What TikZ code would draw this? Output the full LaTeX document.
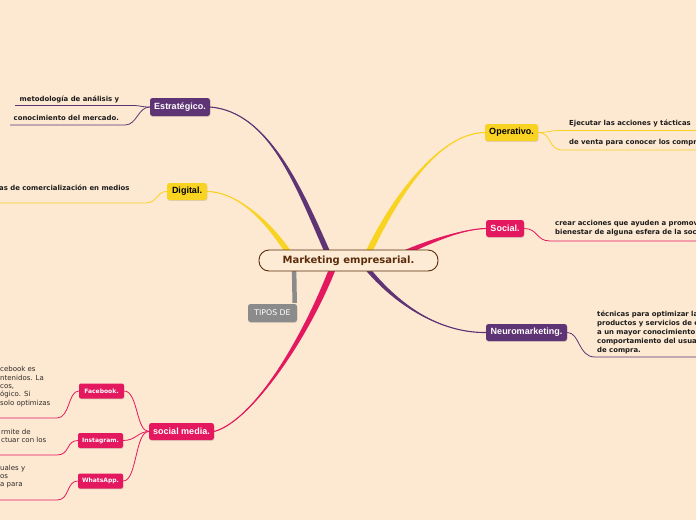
\documentclass[tikz,border=0pt]{standalone}
\usepackage{fontspec}
\setmainfont{DejaVu Sans}
\newfontfamily\lsans{Liberation Sans}
\usetikzlibrary{shadows}
\definecolor{bgc}{HTML}{FDE8D1}
\definecolor{cpurple}{HTML}{5E3474}
\definecolor{cyellow}{HTML}{F9D322}
\definecolor{cpink}{HTML}{E3185E}
\definecolor{cgray}{HTML}{8B8B8B}
\definecolor{cbrown}{HTML}{5B2C0B}
\definecolor{cfill}{HTML}{FDEBD5}
\definecolor{txtdark}{HTML}{1C1C1C}
\definecolor{txtreg}{HTML}{2E2A28}
\pgfdeclarelayer{backlayer}
\pgfdeclarelayer{bglayer}
\pgfsetlayers{backlayer,bglayer,main}
\newcommand\tapr[7]{%
  \fill[#1] ([xshift=-#6,yshift=-#7]#2) .. controls ([xshift=-#6,yshift=-#7]#3) and (#4) .. (#5)
     .. controls (#4) and ([xshift=#6,yshift=#7]#3) .. ([xshift=#6,yshift=#7]#2) -- cycle;
  \draw[#1, line width=1.1pt] (#2) .. controls (#3) and (#4) .. (#5);
}
\tikzset{
  shd/.style={drop shadow={shadow xshift=0.4pt, shadow yshift=-0.9pt, opacity=0.25}},
  mainbox/.style={rounded corners=2.5pt, inner sep=0pt, shd,
     font=\lsans\bfseries\fontsize{9}{10}\selectfont, minimum height=17pt},
  smallbox/.style={rounded corners=2pt, inner sep=0pt, shd, fill=cpink, text=white,
     font=\bfseries\fontsize{6}{7}\selectfont, minimum height=15pt, minimum width=45pt},
  subtxt/.style={font=\bfseries\fontsize{6.9}{9}\selectfont, text=txtdark, inner sep=0pt, anchor=west, align=left},
  regtxt/.style={font=\fontsize{7}{8.3}\selectfont, text=txtreg, inner sep=0pt, anchor=west, align=left},
  thin/.style={line width=0.8pt},
}
\begin{document}
\begin{tikzpicture}[x=1pt,y=-1pt]
\begin{pgfonlayer}{backlayer}
\fill[bgc] (0,0) rectangle (696,520);
\end{pgfonlayer}
\useasboundingbox (0,0) rectangle (696,520);

% ---------- nodes ----------
\node[draw=cbrown, line width=0.9pt, fill=cfill, rounded corners=10pt, minimum width=179pt, minimum height=21pt,
      inner sep=0pt, text=cbrown, font=\bfseries\fontsize{10}{12}\selectfont] (root) at (348.5,260.5) {Marketing empresarial.};
\node[rounded corners=2.5pt, fill=cgray, text=white, minimum width=49pt, minimum height=18pt, inner sep=0pt, shd,
      font=\fontsize{7.8}{9}\selectfont] (tipos) at (272.5,313) {TIPOS DE};

\node[mainbox, fill=cpurple, text=white, minimum width=60pt, minimum height=18pt] (estr) at (180,107) {Estratégico.};
\node[mainbox, fill=cyellow, text=black, minimum width=40pt] (digi) at (187,191.5) {Digital.};
\node[mainbox, fill=cyellow, text=black, minimum width=53pt] (oper) at (511.5,132.5) {Operativo.};
\node[mainbox, fill=cpink, text=white, minimum width=38pt] (soci) at (505,228.5) {Social.};
\node[mainbox, fill=cpurple, text=white, minimum width=81pt] (neur) at (526.5,332.5) {Neuromarketing.};
\node[mainbox, fill=cpink, text=white, minimum width=65pt] (smed) at (181.5,431.5) {social media.};

\node[smallbox] (fb) at (101.5,391) {Facebook.};
\node[smallbox] (ig) at (100.5,440.5) {Instagram.};
\node[smallbox] (wa) at (100.5,481) {WhatsApp.};

% ---------- texts ----------
\node[subtxt] (t1) at (19.5,99) {metodología de análisis y};
\node[subtxt] (t2) at (13.5,118) {conocimiento del mercado.};
\node[subtxt] (t3) at (-1,188) {as de comercialización en medios};
\node[subtxt] (t4) at (569,123.5) {Ejecutar las acciones y tácticas};
\node[subtxt] (t5) at (569,143) {de venta para conocer los compr};
\node[subtxt] (t6) at (555,228.5) {crear acciones que ayuden a promov\\bienestar de alguna esfera de la soc};
\node[subtxt] (t7) at (597,332) {técnicas para optimizar la\\productos y servicios de e\\a un mayor conocimiento\\comportamiento del usua\\de compra.};
\node[regtxt] (t8) at (0,386.5) {cebook es\\ntenidos. La\\cos,\\ógico. Si\\solo optimizas};
\node[regtxt] (t9) at (1,436) {rmite de\\ctuar con los};
\node[regtxt] (t10) at (0,476.5) {uales y\\os\\a para};

% ---------- connectors ----------
\begin{pgfonlayer}{bglayer}
\coordinate (sE) at (330,258);
\coordinate (sD) at (292,258);
\coordinate (sO) at (366,258);
\coordinate (sS) at (385,262);
\coordinate (sN) at (362,262);
\coordinate (sM) at (335,262);
\tapr{cpurple}{sE}{300,190}{270,112}{estr.east}{3pt}{0pt}
\tapr{cyellow}{sD}{272,226}{240,192}{digi.east}{3.5pt}{0pt}
\tapr{cyellow}{sO}{395,195}{440,133}{oper.west}{3.5pt}{0pt}
\tapr{cpink}{sS}{420,245}{460,229}{soci.west}{0pt}{3pt}
\tapr{cpurple}{sN}{395,305}{440,333}{neur.west}{3pt}{0pt}
\tapr{cpink}{sM}{310,330}{255,420}{smed.east}{3.5pt}{0pt}
\coordinate (gT) at (294,266);
\draw[cgray, line width=4.5pt] (gT) -- ([xshift=-2.5pt,yshift=1pt]tipos.north east);

% Estrategico subs
\coordinate (e1) at (15,105.5);
\coordinate (e2) at (10,125);
\draw[cpurple, thin] (estr.west) .. controls (140,107) and (142,105.5) .. (132,105.5) -- (e1);
\draw[cpurple, thin] (estr.west) .. controls (138,107) and (137,125) .. (125,125) -- (e2);
% Digital sub
\coordinate (d1) at (0,203);
\draw[cyellow, thin] (digi.west) .. controls (156,191.5) and (158,203) .. (145,203) -- (d1);
% Operativo subs
\coordinate (o1) at (696,130.5);
\coordinate (o2) at (696,150);
\draw[cyellow, thin] (oper.east) .. controls (548,132.5) and (550,130.5) .. (560,130.5) -- (o1);
\draw[cyellow, thin] (oper.east) .. controls (552,132.5) and (548,150) .. (562,150) -- (o2);
% Social sub
\coordinate (s1) at (696,241);
\draw[cpink, thin] (soci.east) .. controls (538,228.5) and (536,241) .. (550,241) -- (s1);
% Neuro sub
\coordinate (n1) at (696,357);
\draw[cpurple, thin] (neur.east) .. controls (580,332.5) and (578,357) .. (595,357) -- (n1);
% social media children
\draw[cpink, thin] (fb.east) .. controls (138,391) and (136,431.5) .. (smed.west);
\draw[cpink, thin] (ig.east) .. controls (136,440.5) and (138,431.5) .. (smed.west);
\draw[cpink, thin] (wa.east) .. controls (137,481) and (135,431.5) .. (smed.west);
% their subs
\coordinate (f1) at (0,418);
\coordinate (i1) at (0,455);
\coordinate (w1) at (0,500);
\draw[cpink, thin] (fb.west) .. controls (68,391) and (70,418) .. (57,418) -- (f1);
\draw[cpink, thin] (ig.west) .. controls (66,440.5) and (70,455) .. (57,455) -- (i1);
\draw[cpink, thin] (wa.west) .. controls (66,481) and (70,500) .. (57,500) -- (w1);
\end{pgfonlayer}
\end{tikzpicture}
\end{document}
